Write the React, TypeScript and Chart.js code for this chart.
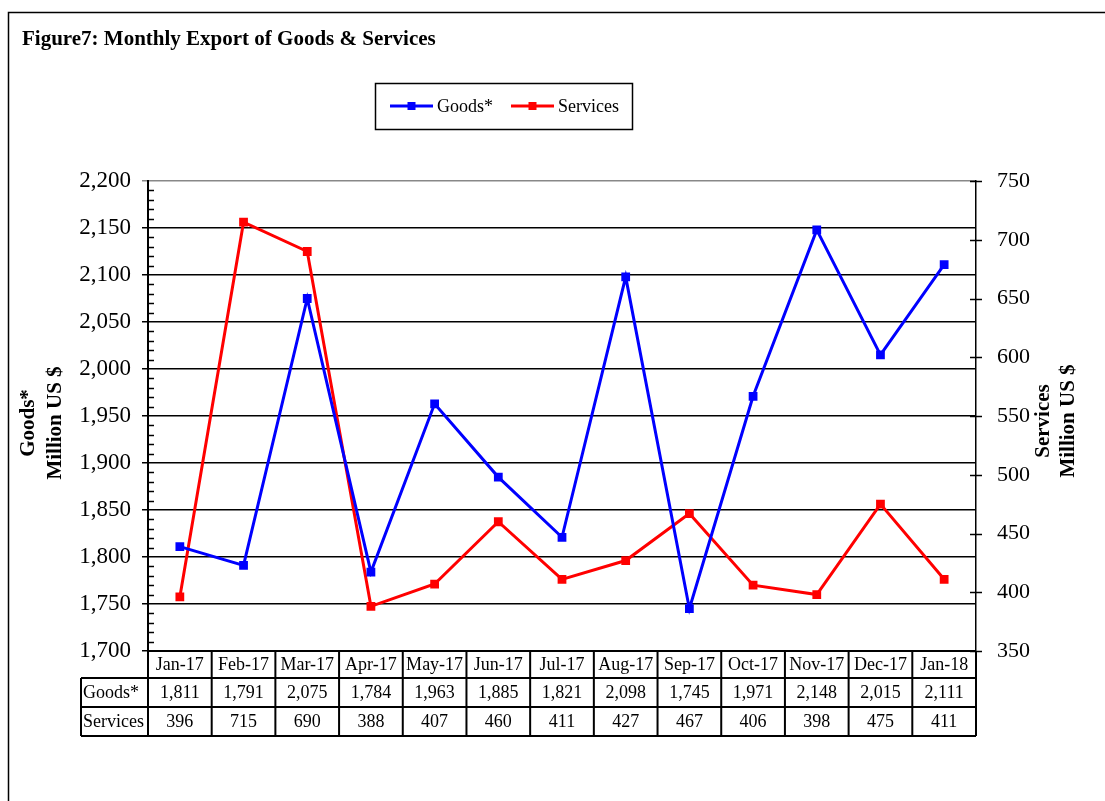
import React, { useEffect, useRef } from "react";
import { Chart, registerables } from "chart.js";

Chart.register(...registerables);

const categories = ["Jan-17", "Feb-17", "Mar-17", "Apr-17", "May-17", "Jun-17", "Jul-17", "Aug-17", "Sep-17", "Oct-17", "Nov-17", "Dec-17", "Jan-18"];
const goods = [1811, 1791, 2075, 1784, 1963, 1885, 1821, 2098, 1745, 1971, 2148, 2015, 2111];
const services = [396, 715, 690, 388, 407, 460, 411, 427, 467, 406, 398, 475, 411];
const goodsLabel = "Goods*";
const servicesLabel = "Services";
const titleText = "Figure7: Monthly Export of Goods & Services";
const leftTitle = ["Goods*", "Million US $"];
const rightTitle = ["Services", "Million US $"];

const SERIF = "'Liberation Serif', 'Times New Roman', serif";
const BLUE = "#0000FF";
const RED = "#FF0000";

const fmt = (v: number) => v.toLocaleString("en-US");

const customPlugin = {
  id: "custom",
  afterDraw(chart: any) {
    const ctx = chart.ctx as CanvasRenderingContext2D;
    const area = chart.chartArea;
    const x = chart.scales.x;
    const y = chart.scales.y;
    const y1 = chart.scales.y1;
    ctx.save();

    // outer frame
    ctx.strokeStyle = "#000";
    ctx.lineWidth = 1.5;
    ctx.strokeRect(8.5, 12.5, 1300, 1000);

    // title
    ctx.fillStyle = "#000";
    ctx.font = `bold 21px ${SERIF}`;
    ctx.textAlign = "left";
    ctx.textBaseline = "alphabetic";
    ctx.fillText(titleText, 22, 45);

    // legend
    ctx.lineWidth = 1.5;
    ctx.strokeStyle = "#000";
    ctx.strokeRect(375.5, 83.5, 257, 46);
    const legendItems = [
      { label: goodsLabel, color: BLUE, x0: 390 },
      { label: servicesLabel, color: RED, x0: 511 },
    ];
    ctx.font = `18px ${SERIF}`;
    ctx.textBaseline = "middle";
    for (const it of legendItems) {
      ctx.strokeStyle = it.color;
      ctx.lineWidth = 3;
      ctx.beginPath();
      ctx.moveTo(it.x0, 106);
      ctx.lineTo(it.x0 + 43, 106);
      ctx.stroke();
      ctx.fillStyle = it.color;
      ctx.fillRect(it.x0 + 17.5, 102, 8, 8);
      ctx.fillStyle = "#000";
      ctx.fillText(it.label, it.x0 + 47, 107);
    }

    // axis titles
    ctx.font = `bold 21px ${SERIF}`;
    ctx.textAlign = "center";
    ctx.textBaseline = "middle";
    const drawRot = (lines: string[], xs: number[], cy: number) => {
      lines.forEach((l, i) => {
        ctx.save();
        ctx.translate(xs[i], cy);
        ctx.rotate(-Math.PI / 2);
        ctx.fillText(l, 0, 0);
        ctx.restore();
      });
    };
    drawRot(leftTitle, [29, 56], 423);
    drawRot(rightTitle, [1044, 1069], 421);

    // minor ticks on left axis (inside)
    ctx.strokeStyle = "#000";
    ctx.lineWidth = 1.5;
    for (let v = y.min; v <= y.max; v += 10) {
      if (v % 50 === 0) continue;
      const py = Math.round(y.getPixelForValue(v)) + 0.5;
      ctx.beginPath();
      ctx.moveTo(area.left, py);
      ctx.lineTo(area.left + 6, py);
      ctx.stroke();
    }

    // right axis crossing ticks
    for (let v = y1.min; v <= y1.max; v += 50) {
      const py = Math.round(y1.getPixelForValue(v)) + 0.5;
      ctx.beginPath();
      ctx.moveTo(area.right - 6, py);
      ctx.lineTo(area.right + 6, py);
      ctx.stroke();
    }

    // data table
    const n = categories.length;
    const colW = (area.right - area.left) / n;
    const rowTops = [area.bottom, area.bottom + 27, area.bottom + 56, area.bottom + 85];
    const labelLeft = 81;
    ctx.lineWidth = 2;
    ctx.strokeStyle = "#000";
    ctx.beginPath();
    ctx.moveTo(area.left, rowTops[0]);
    ctx.lineTo(area.right, rowTops[0]);
    for (let r = 1; r < 4; r++) {
      ctx.moveTo(labelLeft, rowTops[r]);
      ctx.lineTo(area.right, rowTops[r]);
    }
    ctx.moveTo(labelLeft, rowTops[1]);
    ctx.lineTo(labelLeft, rowTops[3]);
    for (let i = 0; i <= n; i++) {
      const px = area.left + i * colW;
      ctx.moveTo(px, rowTops[0]);
      ctx.lineTo(px, rowTops[3]);
    }
    ctx.stroke();

    ctx.fillStyle = "#000";
    ctx.font = `18px ${SERIF}`;
    ctx.textBaseline = "middle";
    ctx.textAlign = "left";
    ctx.fillText(goodsLabel, labelLeft + 2, (rowTops[1] + rowTops[2]) / 2 + 1);
    ctx.fillText(servicesLabel, labelLeft + 2, (rowTops[2] + rowTops[3]) / 2 + 1);
    ctx.textAlign = "center";
    for (let i = 0; i < n; i++) {
      const cx = x.getPixelForValue(i);
      ctx.fillText(categories[i], cx, (rowTops[0] + rowTops[1]) / 2 + 1);
      ctx.fillText(fmt(goods[i]), cx, (rowTops[1] + rowTops[2]) / 2 + 1);
      ctx.fillText(fmt(services[i]), cx, (rowTops[2] + rowTops[3]) / 2 + 1);
    }
    ctx.restore();
  },
};

export default function App() {
  const ref = useRef<HTMLCanvasElement | null>(null);
  useEffect(() => {
    document.body.style.margin = "0";
    const canvas = ref.current;
    if (!canvas) return;
    const chart = new Chart(canvas, {
      type: "line",
      data: {
        labels: categories,
        datasets: [
          {
            label: goodsLabel,
            data: goods,
            yAxisID: "y",
            borderColor: BLUE,
            backgroundColor: BLUE,
            borderWidth: 3,
            pointStyle: "rect",
            pointRadius: 6.2,
            pointHoverRadius: 6.2,
            pointBorderWidth: 0,
            tension: 0,
          },
          {
            label: servicesLabel,
            data: services,
            yAxisID: "y1",
            borderColor: RED,
            backgroundColor: RED,
            borderWidth: 3,
            pointStyle: "rect",
            pointRadius: 6.2,
            pointHoverRadius: 6.2,
            pointBorderWidth: 0,
            tension: 0,
          },
        ],
      },
      options: {
        responsive: false,
        animation: false,
        devicePixelRatio: 1,
        layout: { padding: { top: 181, bottom: 150, left: 0, right: 0 } },
        plugins: {
          legend: { display: false },
          title: { display: false },
          tooltip: { enabled: false },
        },
        scales: {
          x: {
            type: "category",
            offset: true,
            display: false,
          },
          y: {
            position: "left",
            min: 1700,
            max: 2200,
            afterFit: (s: any) => {
              s.width = 148;
            },
            ticks: {
              stepSize: 50,
              color: "#000",
              padding: 11,
              font: { family: SERIF, size: 23 },
              callback: (v: any) => fmt(Number(v)),
            },
            grid: {
              color: (c: any) => (c.tick && c.tick.value === 2200 ? "#888" : "#000"),
              lineWidth: 1.5,
              tickLength: 6,
              drawTicks: true,
            },
            border: { display: true, color: "#000", width: 2 },
          },
          y1: {
            position: "right",
            min: 350,
            max: 750,
            afterFit: (s: any) => {
              s.width = 129;
            },
            ticks: {
              stepSize: 50,
              color: "#000",
              padding: 21,
              font: { family: SERIF, size: 22 },
            },
            grid: { drawOnChartArea: false, drawTicks: false },
            border: { display: true, color: "#000", width: 1.5, dash: [3, 2] },
          },
        },
      },
      plugins: [customPlugin],
    });
    return () => chart.destroy();
  }, []);
  return (
    <div style={{ width: 1105, height: 801 }}>
      <canvas ref={ref} width={1105} height={801} style={{ display: "block" }} />
    </div>
  );
}
